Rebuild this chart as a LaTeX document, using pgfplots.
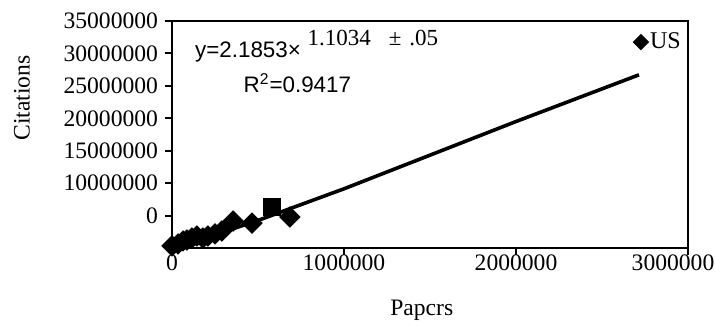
\documentclass[border=0pt]{standalone}
\usepackage{fontspec}
\setmainfont{Liberation Serif}
\setsansfont{Liberation Sans}
\usepackage{pgfplots}
\pgfplotsset{compat=1.18}
\begin{document}
\begin{tikzpicture}
\begin{pgfinterruptboundingbox}
\begin{axis}[
  name=ax,
  scale only axis,
  width=258bp, height=113.5bp,
  xmin=0, xmax=3000000,
  ymin=0, ymax=35000000,
  axis line style={line width=1.3bp},
  tick style={line width=1bp, black},
  tick align=outside,
  major tick length=3.5bp,
  tick pos=left,
  xtick={0,1000000,2000000},
  xticklabels={0,1000000,2000000},
  extra x ticks={3000000},
  extra x tick labels={3000000},
  extra x tick style={xticklabel style={xshift=-7.5bp}},
  ytick={0,5000000,10000000,15000000,20000000,25000000,30000000,35000000},
  yticklabels={,0,10000000,15000000,20000000,25000000,30000000,35000000},
  scaled x ticks=false, scaled y ticks=false,
  /pgf/number format/assume math mode=true,
  ticklabel style={font=\fontsize{11.8bp}{13bp}\selectfont},
  xticklabel style={yshift=3.5bp},
  xlabel={Papcrs},
  ylabel={Citations},
  label style={font=\fontsize{11.8bp}{13bp}\selectfont},
  xlabel style={at={(axis description cs:0.484,-0.273)}, anchor=center},
  ylabel style={at={(axis description cs:-0.291,0.661)}, anchor=center},
  clip=false,
  legend style={draw=none, fill=none, at={(axis description cs:0.99,0.907)}, anchor=east,
    font=\fontsize{12bp}{13bp}\selectfont, inner sep=0pt,
    nodes={inner sep=0.8bp}},
  legend image post style={mark size=2.7bp},
  legend image code/.code={\draw[#1] plot coordinates {(0bp,0bp)};},
  legend cell align=left,
]
\addplot[only marks, mark=square*, mark size=3.6bp, mark options={rotate=45, fill=black, draw=black}]
coordinates {
(0,310000) (35000,620000) (64000,1080000) (87000,1230000) (116000,1540000)
(145000,1850000) (180000,1540000) (209000,1850000) (250000,2160000)
(290000,2620000) (355000,4160000) (465000,3850000) (686000,4780000)
};
\addlegendentry{US}
\addplot[only marks, mark=square*, mark size=4.2bp, mark options={fill=black, draw=black}, forget plot]
coordinates {(581000,6320000)};
\addplot[black, line width=1.8bp, forget plot]
coordinates {
(0,0) (100000,720000) (500000,4250000) (1000000,9130000) (2000000,19500000) (2715000,26700000)
};
\node[anchor=base west, inner sep=0pt, font=\sffamily\fontsize{11.2bp}{13bp}\selectfont]
  at (axis description cs:0.044,0.837) {y=2.1853×};
\node[anchor=base west, inner sep=0pt, font=\fontsize{11.5bp}{13bp}\selectfont]
  at (axis description cs:0.262,0.894) {1.1034\hspace{9bp}±\hspace{4bp}.05};
\node[anchor=base west, inner sep=0pt, font=\sffamily\fontsize{11.2bp}{13bp}\selectfont]
  at (axis description cs:0.138,0.687) {R\textsuperscript{2}=0.9417};
\end{axis}
\end{pgfinterruptboundingbox}
\path ([xshift=-86bp,yshift=-41.5bp]ax.south west) rectangle ([xshift=13.5bp,yshift=10.5bp]ax.north east);
\end{tikzpicture}
\end{document}
